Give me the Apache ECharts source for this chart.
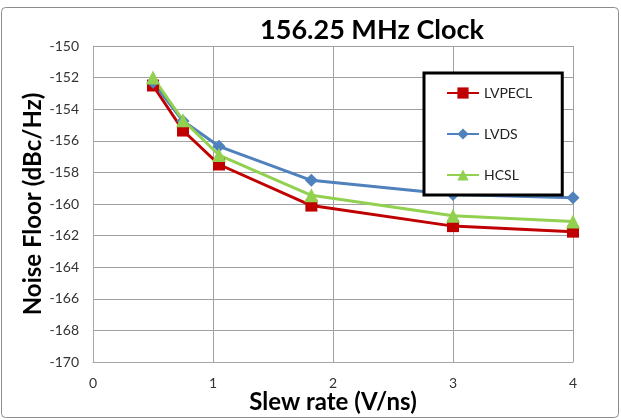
<!DOCTYPE html>
<html>
<head>
<meta charset="utf-8">
<script src="https://cdn.jsdelivr.net/npm/echarts@6/dist/echarts.min.js"></script>
<style>
  html, body { margin: 0; padding: 0; background: #fff; }
  #chart { width: 621px; height: 420px; }
</style>
</head>
<body>
<div id="chart"></div>
<script>
// Slew rate (V/ns) vs. noise floor (dBc/Hz) for three output standards
const slewRates = [0.5, 0.75, 1.05, 1.82, 3, 4];
const lvpecl = [-152.5, -155.35, -157.5, -160.1, -161.4, -161.75];
const lvds   = [-152.3, -154.75, -156.35, -158.5, -159.4, -159.6];
const hcsl   = [-152.0, -154.7, -156.9, -159.45, -160.75, -161.1];

const seriesNames = ['LVPECL', 'LVDS', 'HCSL'];
const seriesValues = [lvpecl, lvds, hcsl];
const colors = ['#C00000', '#4F81BD', '#92D050'];
const symbols = ['rect', 'diamond', 'triangle'];
const symbolSizes = [12, 13, 14];

const font = 'Lato, "Open Sans", sans-serif';

const chart = echarts.init(document.getElementById('chart'));
chart.setOption({
  animation: false,
  backgroundColor: '#fff',
  title: {
    text: '156.25 MHz Clock',
    left: 367, top: 12, textAlign: 'center',
    textStyle: { fontFamily: font, fontWeight: 'bold', fontSize: 27, color: '#000' }
  },
  graphic: [{
    type: 'rect',
    shape: { x: 1.5, y: 7.5, width: 617, height: 410, r: 4 },
    style: { fill: 'none', stroke: '#8c8c8c', lineWidth: 1 },
    silent: true
  }],
  legend: {
    orient: 'vertical',
    left: 424, top: 73,
    padding: [13, 30, 13, 22],
    itemGap: 27,
    itemWidth: 32, itemHeight: 14,
    borderColor: '#000', borderWidth: 3,
    backgroundColor: '#fff',
    z: 10,
    textStyle: { fontFamily: font, fontSize: 14, color: '#222' },
    data: seriesNames
  },
  grid: { left: 93, right: 48, top: 46, bottom: 58, containLabel: false, outerBoundsMode: 'none' },
  xAxis: {
    type: 'value', min: 0, max: 4, interval: 1,
    name: 'Slew rate (V/ns)', nameLocation: 'middle', nameGap: 28,
    nameMoveOverlap: false,
    nameTextStyle: { fontFamily: font, fontWeight: 'bold', fontSize: 24, color: '#000' },
    axisLine: { show: true, lineStyle: { color: '#a6a6a6', width: 1 } },
    axisTick: { show: false },
    axisLabel: { fontFamily: font, fontSize: 14, color: '#333', margin: 14 },
    splitLine: { show: true, lineStyle: { color: '#a0a0a0', width: 1 } }
  },
  yAxis: {
    type: 'value', min: -170, max: -150, interval: 2,
    name: 'Noise Floor (dBc/Hz)', nameLocation: 'middle', nameGap: 48,
    nameMoveOverlap: false,
    nameTextStyle: { fontFamily: font, fontWeight: 'bold', fontSize: 24, color: '#000' },
    axisLine: { show: true, lineStyle: { color: '#a6a6a6', width: 1 } },
    axisTick: { show: false },
    axisLabel: { fontFamily: font, fontSize: 14, color: '#333', margin: 14 },
    splitLine: { show: true, lineStyle: { color: '#a0a0a0', width: 1 } }
  },
  series: seriesNames.map((name, i) => ({
    name,
    type: 'line',
    data: slewRates.map((x, j) => [x, seriesValues[i][j]]),
    symbol: symbols[i],
    symbolSize: symbolSizes[i],
    showAllSymbol: true,
    color: colors[i],
    lineStyle: { width: 3, color: colors[i] },
    itemStyle: { color: colors[i] },
    z: 2
  }))
});
</script>
</body>
</html>
